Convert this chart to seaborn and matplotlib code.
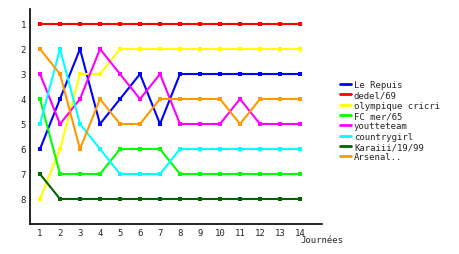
import matplotlib
matplotlib.use("Agg")
import matplotlib.pyplot as plt
import seaborn as sns
import pandas as pd

journees = list(range(1, 15))
teams = ["Le Repuis", "dedel/69", "olympique cricri", "FC mer/65",
         "youtteteam", "countrygirl", "Karaiii/19/99", "Arsenal.."]
le_repuis = [6, 4, 2, 5, 4, 3, 5, 3, 3, 3, 3, 3, 3, 3]
dedel = [1, 1, 1, 1, 1, 1, 1, 1, 1, 1, 1, 1, 1, 1]
olympique = [8, 6, 3, 3, 2, 2, 2, 2, 2, 2, 2, 2, 2, 2]
fc_mer = [4, 7, 7, 7, 6, 6, 6, 7, 7, 7, 7, 7, 7, 7]
youtteteam = [3, 5, 4, 2, 3, 4, 3, 5, 5, 5, 4, 5, 5, 5]
countrygirl = [5, 2, 5, 6, 7, 7, 7, 6, 6, 6, 6, 6, 6, 6]
karaiii = [7, 8, 8, 8, 8, 8, 8, 8, 8, 8, 8, 8, 8, 8]
arsenal = [2, 3, 6, 4, 5, 5, 4, 4, 4, 4, 5, 4, 4, 4]
series = [le_repuis, dedel, olympique, fc_mer, youtteteam, countrygirl, karaiii, arsenal]
colors = ["#0000ff", "#ff0000", "#ffff00", "#00ff00", "#ff00ff", "#00ffff", "#006400", "#ff9900"]
y_ticks = [1, 2, 3, 4, 5, 6, 7, 8]

rows = []
for t, vals in zip(teams, series):
    for j, v in zip(journees, vals):
        rows.append({"Journée": j, "rang": v, "team": t})
df = pd.DataFrame(rows)

sns.set_style("white")
plt.rcParams["font.family"] = ["DejaVu Sans Mono"]

fig = plt.figure(figsize=(4.6, 2.55), dpi=100)
ax = fig.add_axes([30 / 460, 30 / 255, 292 / 460, 215 / 255])

for t, c in zip(teams, colors):
    sub = df[df["team"] == t]
    sns.lineplot(data=sub, x="Journée", y="rang", ax=ax, color=c, linewidth=1.5,
                 marker="s", markersize=2.5, markeredgewidth=0, label=t, legend=False)

ax.set_xlim(0.5, 15.1)
ax.set_ylim(9, 0.4)
ax.set_xticks(journees)
ax.set_yticks(y_ticks)
ax.tick_params(axis="both", length=0, labelsize=6.5, pad=3)
for s in ["top", "right"]:
    ax.spines[s].set_visible(False)
for s in ["left", "bottom"]:
    ax.spines[s].set_color("black")
    ax.spines[s].set_linewidth(1.2)
ax.set_xlabel("")
ax.set_ylabel("")
fig.text(300 / 460, 1 - 241 / 255, "Journées", fontsize=6.5, ha="left", va="center")

handles = [plt.Line2D([0], [0], color=c, linewidth=2) for c in colors]
fig.legend(handles, teams, loc="upper left", bbox_to_anchor=(340 / 460, 1 - 81 / 255),
           frameon=False, fontsize=6.5, handlelength=1.2, handletextpad=0.35,
           labelspacing=0.15, borderaxespad=0, borderpad=0)

fig.savefig("out.png", dpi=100)
